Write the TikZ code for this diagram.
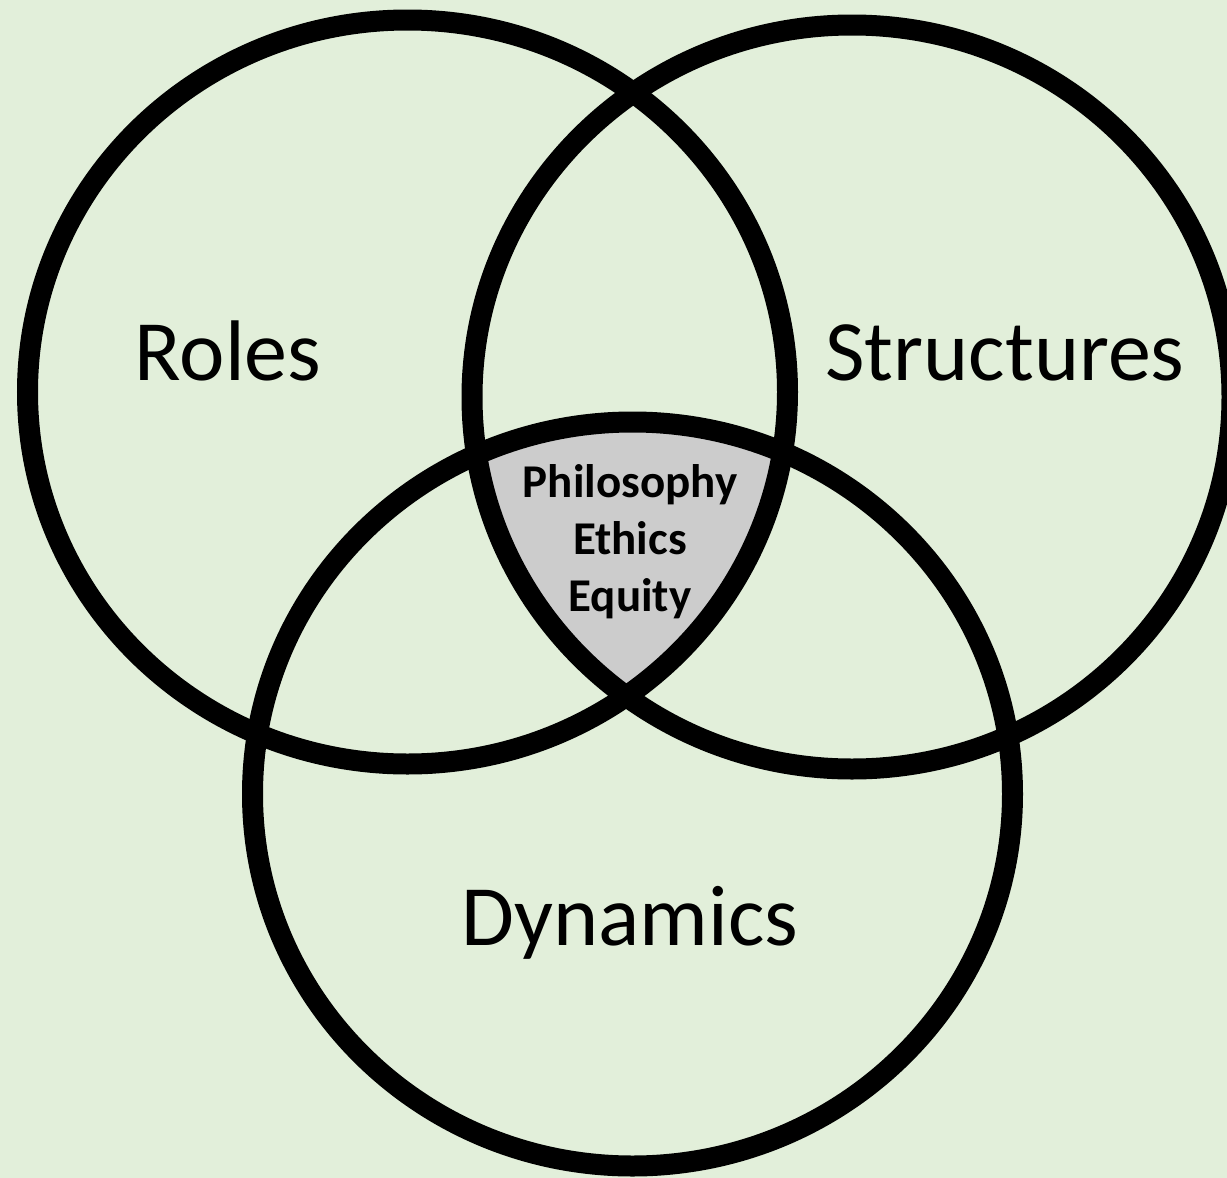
\documentclass[tikz,border=0pt]{standalone}
\usepackage{fontspec}
\setmainfont{Carlito}
\definecolor{bgc}{RGB}{226,239,218}
\definecolor{core}{RGB}{204,204,204}
\tikzset{
  ring/.style={draw=black, line width=21pt},
  biglabel/.style={font=\fontsize{86}{100}\selectfont, inner sep=0pt, anchor=base},
  corelabel/.style={font=\fontsize{47}{57}\selectfont\bfseries, align=center, inner sep=0pt}
}
\begin{document}
\begin{tikzpicture}[x=1pt, y=-1pt]
\fill[bgc] (0,0) rectangle (1227,1178);
\useasboundingbox (0,0) rectangle (1227,1178);
\coordinate (c1) at (407.5,392);
\coordinate (c2) at (852,397);
\coordinate (c3) at (632.5,794);
\begin{scope}
  \clip (c1) ellipse [x radius=380pt, y radius=372pt];
  \clip (c2) ellipse [x radius=380pt, y radius=372pt];
  \fill[core] (c3) ellipse [x radius=380pt, y radius=372pt];
\end{scope}
\draw[ring] (c1) ellipse [x radius=380pt, y radius=372pt];
\draw[ring] (c2) ellipse [x radius=380pt, y radius=372pt];
\draw[ring] (c3) ellipse [x radius=380pt, y radius=372pt];
\node[biglabel] (roles) at (228,380) {Roles};
\node[biglabel] (structures) at (1005,380) {Structures};
\node[biglabel] (dynamics) at (630,945) {Dynamics};
\node[corelabel] (core) at (630,542) {Philosophy\\Ethics\\Equity};
\end{tikzpicture}
\end{document}
